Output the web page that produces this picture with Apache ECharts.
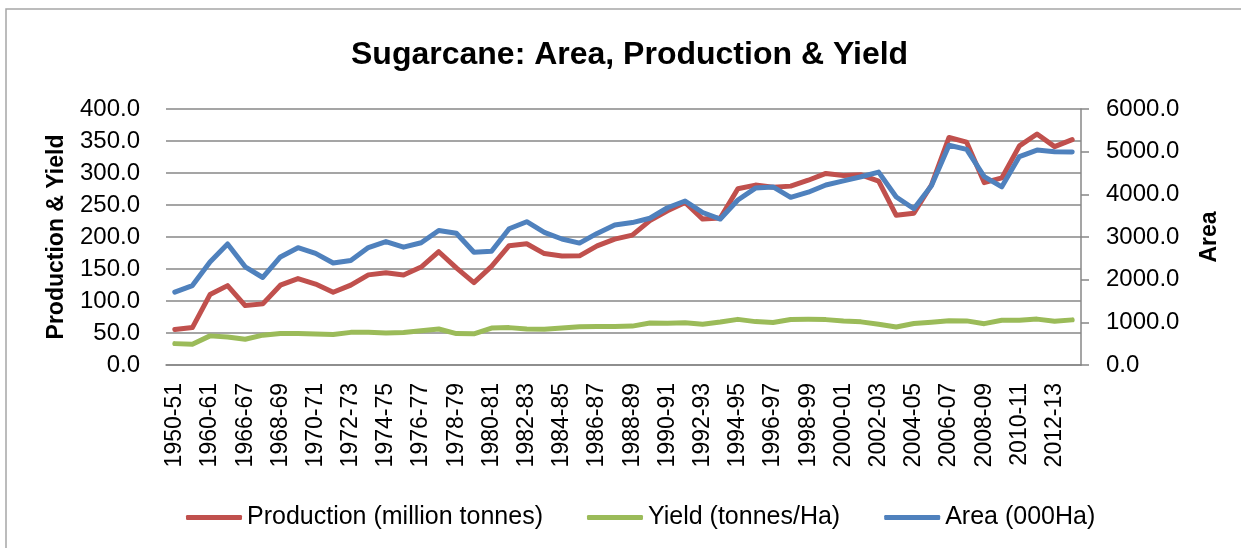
<!DOCTYPE html>
<html>
<head>
<meta charset="utf-8">
<script src="https://cdn.jsdelivr.net/npm/echarts@6/dist/echarts.min.js"></script>
<style>
  html, body { margin: 0; padding: 0; background: #fff; }
  #chart { width: 1241px; height: 548px; }
</style>
</head>
<body>
<div id="chart"></div>
<script>
// years (crop seasons)
var years = [
  "1950-51", "1955-56", "1960-61", "1965-66", "1966-67", "1967-68", "1968-69", "1969-70",
  "1970-71", "1971-72", "1972-73", "1973-74", "1974-75", "1975-76", "1976-77", "1977-78",
  "1978-79", "1979-80", "1980-81", "1981-82", "1982-83", "1983-84", "1984-85", "1985-86",
  "1986-87", "1987-88", "1988-89", "1989-90", "1990-91", "1991-92", "1992-93", "1993-94",
  "1994-95", "1995-96", "1996-97", "1997-98", "1998-99", "1999-00", "2000-01", "2001-02",
  "2002-03", "2003-04", "2004-05", "2005-06", "2006-07", "2007-08", "2008-09", "2009-10",
  "2010-11", "2011-12", "2012-13", "2013-14"
];

// million tonnes
var production = [
  55.5, 58.5, 110.0, 124.0, 92.8, 95.5, 124.7, 135.0,
  126.4, 113.6, 124.9, 140.8, 144.3, 140.6, 153.0, 177.0,
  151.7, 128.8, 154.2, 186.4, 189.5, 174.1, 170.3, 170.6,
  186.1, 196.7, 203.0, 225.6, 241.0, 254.0, 228.0, 229.7,
  275.5, 281.1, 277.6, 279.5, 288.7, 299.3, 296.0, 297.2,
  287.4, 233.9, 237.1, 281.2, 355.5, 348.2, 285.0, 292.3,
  342.4, 361.0, 341.2, 352.1
];

// tonnes/ha
var yieldT = [
  33.4, 32.5, 45.5, 43.7, 40.3, 46.6, 49.2, 49.1,
  48.3, 47.5, 51.0, 51.2, 49.9, 50.9, 53.4, 56.2,
  49.1, 48.8, 57.8, 58.4, 56.4, 56.0, 57.7, 59.7,
  60.3, 60.0, 60.8, 65.6, 65.4, 66.1, 63.8, 67.1,
  71.3, 67.8, 66.5, 71.1, 71.3, 70.9, 68.6, 67.4,
  63.6, 59.4, 64.8, 66.9, 69.0, 68.9, 64.6, 70.0,
  70.1, 71.7, 68.3, 70.5
];

// 000 ha
var area = [
  1707, 1861, 2415, 2836, 2302, 2051, 2533, 2749,
  2615, 2390, 2450, 2752, 2894, 2762, 2866, 3151,
  3088, 2642, 2667, 3193, 3358, 3109, 2953, 2857,
  3084, 3279, 3338, 3439, 3686, 3844, 3574, 3421,
  3868, 4147, 4174, 3930, 4050, 4220, 4316, 4412,
  4520, 3938, 3662, 4201, 5151, 5055, 4415, 4175,
  4884, 5038, 4999, 4993
];

var FONT = "Liberation Sans";
var gridColor = "#878787";

var chart = echarts.init(document.getElementById("chart"));
chart.setOption({
  animation: false,
  textStyle: { fontFamily: FONT },
  color: ["#C0504D", "#9BBB59", "#4F81BD"],
  graphic: [
    {
      type: "rect",
      shape: { x: 6, y: 9, width: 1300, height: 600 },
      style: { fill: "none", stroke: "#a6a6a6", lineWidth: 1.5 },
      silent: true
    }
  ],
  title: {
    text: "Sugarcane: Area, Production & Yield",
    left: 346,
    top: 34,
    textStyle: { fontFamily: FONT, fontSize: 32, fontWeight: "bold", color: "#000" }
  },
  legend: {
    left: 181,
    top: 500,
    itemWidth: 56,
    itemHeight: 5,
    itemGap: 44,
    icon: "roundRect",
    textStyle: { fontFamily: FONT, fontSize: 25, color: "#000" },
    data: ["Production (million tonnes)", "Yield (tonnes/Ha)", "Area (000Ha)"]
  },
  grid: { left: 166, right: 160, top: 109, bottom: 183 },
  xAxis: {
    type: "category",
    data: years,
    boundaryGap: true,
    axisLine: { lineStyle: { color: gridColor, width: 1.5 } },
    axisTick: { show: false },
    axisLabel: {
      interval: 1,
      rotate: 90,
      margin: 18,
      fontSize: 23,
      color: "#000",
      fontFamily: FONT
    }
  },
  yAxis: [
    {
      type: "value",
      min: 0,
      max: 400,
      interval: 50,
      name: "Production & Yield",
      nameLocation: "middle",
      nameRotate: 90,
      nameGap: 98,
      nameTextStyle: { fontFamily: FONT, fontSize: 23, fontWeight: "bold", color: "#000" },
      axisLine: { show: false },
      axisTick: { show: false },
      axisLabel: {
        margin: 26,
        fontSize: 24,
        color: "#000",
        fontFamily: FONT,
        formatter: function (v) { return v.toFixed(1); }
      },
      splitLine: { lineStyle: { color: gridColor, width: 1.5 } }
    },
    {
      type: "value",
      position: "right",
      min: 0,
      max: 6000,
      interval: 1000,
      name: "Area",
      nameLocation: "middle",
      nameRotate: 90,
      nameGap: 117,
      nameTextStyle: { fontFamily: FONT, fontSize: 23, fontWeight: "bold", color: "#000" },
      axisLine: { show: true, lineStyle: { color: gridColor, width: 1.5 } },
      axisTick: { show: true, inside: false, length: 8, lineStyle: { color: gridColor, width: 1.5 } },
      axisLabel: {
        margin: 25,
        fontSize: 24,
        color: "#000",
        fontFamily: FONT,
        formatter: function (v) { return v.toFixed(1); }
      },
      splitLine: { show: false }
    }
  ],
  series: [
    {
      name: "Production (million tonnes)",
      type: "line",
      yAxisIndex: 0,
      data: production,
      showSymbol: false,
      lineStyle: { width: 5, cap: "round", join: "round" }
    },
    {
      name: "Yield (tonnes/Ha)",
      type: "line",
      yAxisIndex: 0,
      data: yieldT,
      showSymbol: false,
      lineStyle: { width: 5, cap: "round", join: "round" }
    },
    {
      name: "Area (000Ha)",
      type: "line",
      yAxisIndex: 1,
      data: area,
      showSymbol: false,
      lineStyle: { width: 5, cap: "round", join: "round" }
    }
  ]
});
</script>
</body>
</html>
